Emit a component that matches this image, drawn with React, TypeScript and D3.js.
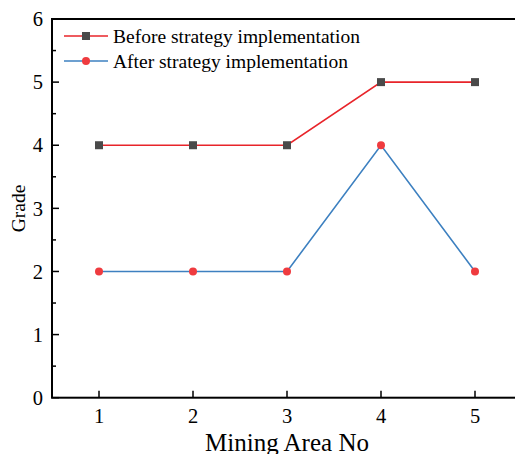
import React from "react";
import * as d3 from "d3";

const areas = [1, 2, 3, 4, 5];
const beforeValues = [4, 4, 4, 5, 5];
const afterValues = [2, 2, 2, 4, 2];
const yTicks = [0, 1, 2, 3, 4, 5, 6];
const yMinorTicks = [0.5, 1.5, 2.5, 3.5, 4.5, 5.5];
const seriesNames = ["Before strategy implementation", "After strategy implementation"];

const W = 515, H = 454;
const left = 52, top = 19, right = 522, bottom = 397.7;
const font = "'Liberation Serif', 'Times New Roman', serif";
const red = "#e8242a", blue = "#3d80c0", gray = "#4a4a4a", dotRed = "#ef3b3f";

export default function App() {
  const x = d3.scaleLinear().domain([0.5, 5.5]).range([left, right]);
  const y = d3.scaleLinear().domain([0, 6]).range([bottom, top]);
  const line = d3.line<number>().x((_, i) => x(areas[i])).y((d) => y(d));
  return (
    <svg width={W} height={H} style={{ position: "absolute", left: 0, top: 0 }}>
      <rect width={W} height={H} fill="#fff" />
      <rect x={left} y={top} width={right - left} height={bottom - top} fill="none" stroke="#000" strokeWidth={2} />
      {yTicks.map((t) => (
        <g key={t}>
          <line x1={left} x2={left + 7} y1={y(t)} y2={y(t)} stroke="#000" strokeWidth={1.5} />
          <text x={43} y={y(t)} dy="0.35em" textAnchor="end" fontFamily={font} fontSize={20.5}>{t}</text>
        </g>
      ))}
      {yMinorTicks.map((t) => (
        <line key={t} x1={left} x2={left + 4} y1={y(t)} y2={y(t)} stroke="#000" strokeWidth={1.5} />
      ))}
      {areas.map((a) => (
        <g key={a}>
          <line x1={x(a)} x2={x(a)} y1={bottom} y2={bottom - 7} stroke="#000" strokeWidth={1.5} />
          <text x={x(a)} y={423} textAnchor="middle" fontFamily={font} fontSize={20.5}>{a}</text>
        </g>
      ))}
      <text x={287} y={451} textAnchor="middle" fontFamily={font} fontSize={25}>Mining Area No</text>
      <text transform={`translate(25,208.5) rotate(-90)`} textAnchor="middle" fontFamily={font} fontSize={19.5}>Grade</text>
      <path d={line(beforeValues) ?? ""} fill="none" stroke={red} strokeWidth={1.6} />
      <path d={line(afterValues) ?? ""} fill="none" stroke={blue} strokeWidth={1.6} />
      {beforeValues.map((v, i) => (
        <rect key={i} x={x(areas[i]) - 4} y={y(v) - 4} width={8} height={8} fill={gray} />
      ))}
      {afterValues.map((v, i) => (
        <circle key={i} cx={x(areas[i])} cy={y(v)} r={4} fill={dotRed} />
      ))}
      <line x1={64} x2={108} y1={36} y2={36} stroke={red} strokeWidth={1.6} />
      <rect x={82} y={32} width={8} height={8} fill={gray} />
      <text x={113} y={36} dy="0.35em" fontFamily={font} fontSize={19.5}>{seriesNames[0]}</text>
      <line x1={64} x2={108} y1={61} y2={61} stroke={blue} strokeWidth={1.6} />
      <circle cx={86} cy={61} r={4} fill={dotRed} />
      <text x={113} y={61} dy="0.35em" fontFamily={font} fontSize={19.5}>{seriesNames[1]}</text>
    </svg>
  );
}
